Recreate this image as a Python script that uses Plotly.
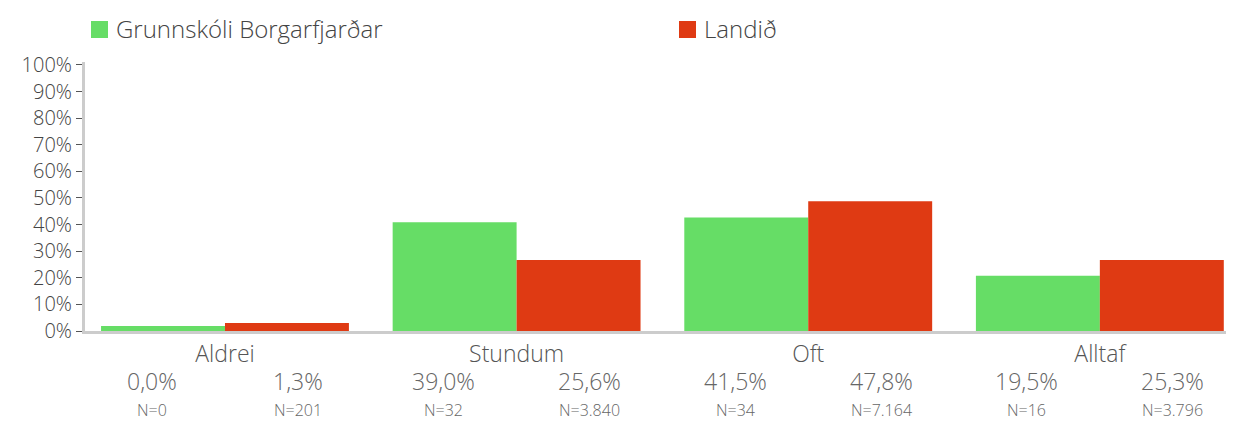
import plotly.graph_objects as go

categories = ["Aldrei", "Stundum", "Oft", "Alltaf"]
series_names = ["Grunnskóli Borgarfjarðar", "Landið"]
# bar heights as drawn in the picture (%)
school_bar = [1.9, 40.9, 42.7, 20.8]
country_bar = [3.0, 26.7, 48.8, 26.7]
# printed labels
school_pct = ["0,0%", "39,0%", "41,5%", "19,5%"]
country_pct = ["1,3%", "25,6%", "47,8%", "25,3%"]
school_n = ["N=0", "N=32", "N=34", "N=16"]
country_n = ["N=201", "N=3.840", "N=7.164", "N=3.796"]
y_ticks = [0, 10, 20, 30, 40, 50, 60, 70, 80, 90, 100]

GREEN = "#66dd66"
RED = "#df3a13"
FONT = "Open Sans"
W = 300

# page has an 8px body margin; figure occupies 8..1234 x 8..421
FIG_W, FIG_H = 1226, 413
L, T = 77, 54
PLOT_W = FIG_W - L
PLOT_H = 269
B = FIG_H - T - PLOT_H


def px_x(px):  # page x -> paper
    return (px - 8 - L) / PLOT_W


def px_y(py):  # page y -> paper
    return (T + PLOT_H - (py - 8)) / PLOT_H


fig = go.Figure()
fig.add_trace(go.Bar(x=list(range(len(categories))), y=school_bar, name=series_names[0],
                     marker=dict(color=GREEN, line=dict(width=0)), showlegend=False))
fig.add_trace(go.Bar(x=list(range(len(categories))), y=country_bar, name=series_names[1],
                     marker=dict(color=RED, line=dict(width=0)), showlegend=False))

ann = []
for i in range(len(categories)):
    for dx, pct, n in ((-0.25, school_pct[i], school_n[i]), (0.25, country_pct[i], country_n[i])):
        ann.append(dict(x=i + dx, y=px_y(381), xref="x", yref="paper", text=pct, showarrow=False,
                        yanchor="middle", font=dict(family=FONT, size=23, color="#666666", weight=W)))
        ann.append(dict(x=i + dx, y=px_y(410), xref="x", yref="paper", text=n, showarrow=False,
                        yanchor="middle", font=dict(family=FONT, size=16, color="#666666", weight=W)))

# legend drawn manually
legend_items = [(91, GREEN, series_names[0]), (679, RED, series_names[1])]
shapes = []
for px, col, name in legend_items:
    shapes.append(dict(type="rect", xref="paper", yref="paper",
                       x0=px_x(px), x1=px_x(px + 17),
                       y0=px_y(38), y1=px_y(21),
                       fillcolor=col, line=dict(width=0)))
    ann.append(dict(x=px_x(px + 23), y=px_y(29), xref="paper", yref="paper",
                    text=name, showarrow=False, xanchor="left", yanchor="middle",
                    font=dict(family=FONT, size=24, color="#444444", weight=W)))

fig.update_layout(
    width=FIG_W, height=FIG_H,
    margin=dict(l=L, r=0, t=T, b=B),
    paper_bgcolor="white", plot_bgcolor="white",
    barmode="group", bargap=0.15, bargroupgap=0,
    font=dict(family=FONT, color="#444444"),
    annotations=ann, shapes=shapes,
    xaxis=dict(range=[-0.48, 3.46], tickmode="array", tickvals=list(range(len(categories))),
               ticktext=categories, showline=True, linecolor="#cccccc", linewidth=3,
               showgrid=False, zeroline=False, ticks="",
               tickfont=dict(family=FONT, size=23, color="#555555", weight=W)),
    yaxis=dict(range=[0, 101.1], tickmode="array", tickvals=y_ticks,
               ticktext=[f"{v}%" for v in y_ticks], showline=True, linecolor="#cccccc",
               linewidth=3, showgrid=False, zeroline=False, ticks="outside", ticklen=6,
               tickcolor="#555555", tickwidth=1,
               tickfont=dict(family=FONT, size=20, color="#444444", weight=W)),
)

fig.write_html("out.html")
